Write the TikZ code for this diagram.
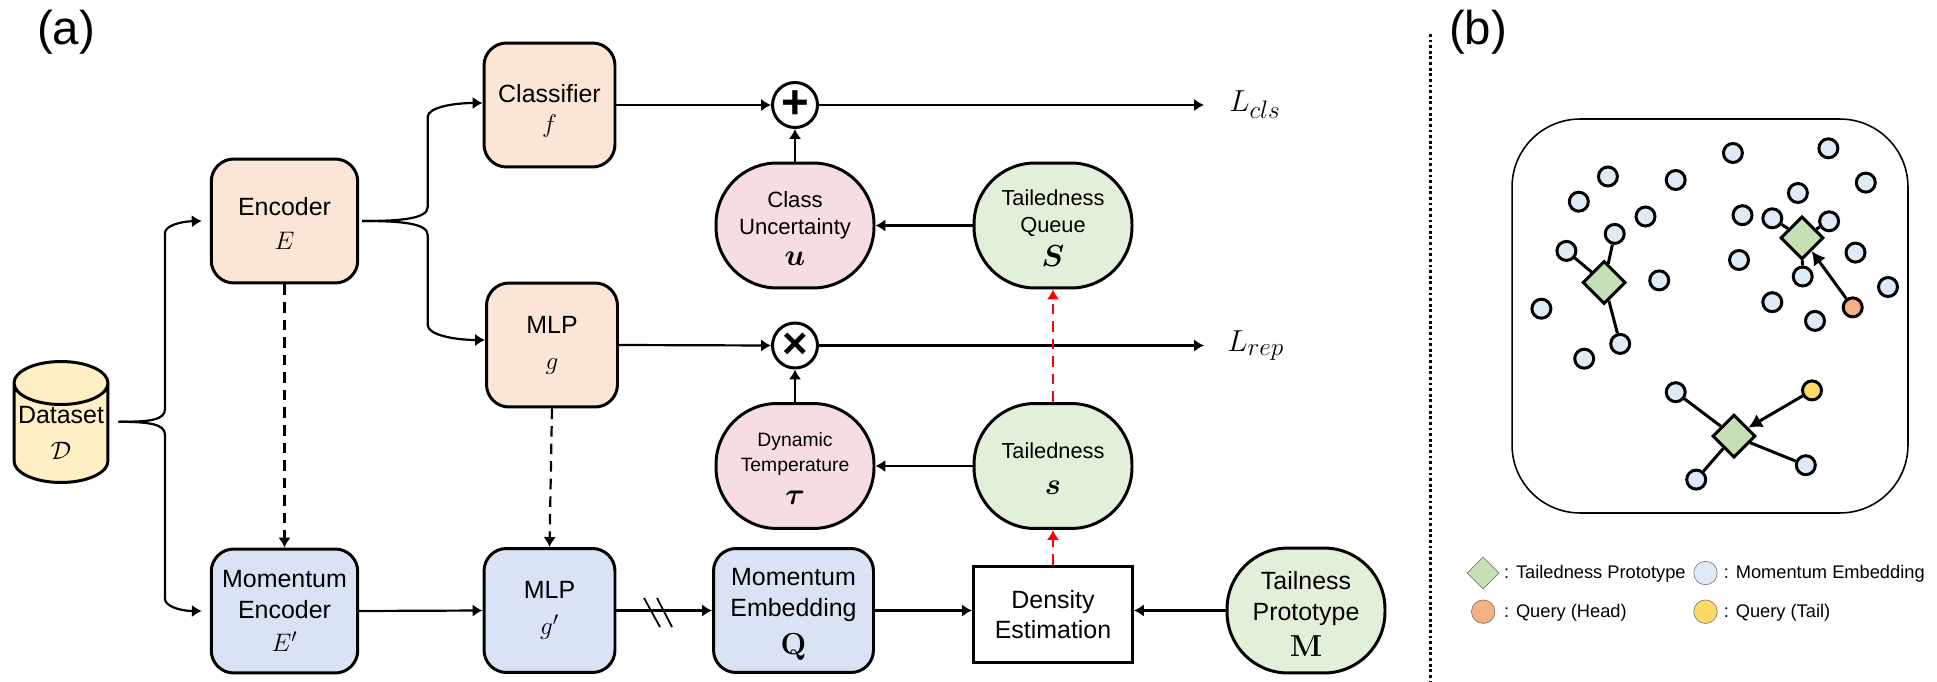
\documentclass[tikz,border=0pt]{standalone}
\usepackage{amsmath}
\usepackage{amssymb}
\usepackage[no-math]{fontspec}
\setmainfont{Liberation Sans}
\usepackage{tikz}
\usetikzlibrary{arrows.meta,shapes.geometric}

\definecolor{peach}{HTML}{FBE5D6}
\definecolor{bluebox}{HTML}{DAE3F3}
\definecolor{greenbox}{HTML}{E2F0D9}
\definecolor{pinkbox}{HTML}{F5DDE1}
\definecolor{yellowbox}{HTML}{FFEFC4}
\definecolor{embedfill}{HTML}{DEEBF7}
\definecolor{protofill}{HTML}{C5E0B4}
\definecolor{headfill}{HTML}{F4B183}
\definecolor{tailfill}{HTML}{FFD966}

\newcommand{\bigfont}{\fontsize{14.2}{17.5}\selectfont}
\newcommand{\symfont}{\fontsize{15.5}{17.5}\selectfont}
\newcommand{\boldfont}{\fontsize{17.5}{17.5}\selectfont}

\tikzset{
    >={Latex[length=2mm,width=2.5mm]},
    flow/.style={->, line width=1.25pt},
    momentumflow/.style={->, line width=1.25pt, dash pattern=on 6pt off 4pt},
    redflow/.style={->, line width=1.25pt, red, dash pattern=on 6pt off 4pt},
    basebox/.style={draw, line width=1.7pt, align=center, inner sep=0pt, font=\bigfont},
    bluenet/.style={basebox, rounded corners=0.45cm, fill=bluebox, minimum height=2.48cm},
    peachnet/.style={basebox, rounded corners=0.45cm, fill=peach, minimum height=2.48cm},
    roundbox/.style={basebox, rounded corners=1.22cm, minimum width=3.16cm, minimum height=2.5cm},
    opnode/.style={draw, circle, line width=1.7pt, fill=white, inner sep=0pt, minimum size=0.9cm},
    embed/.style={draw, circle, line width=1.7pt, fill=embedfill, inner sep=0pt, minimum size=0.38cm},
    proto/.style={draw, diamond, aspect=1, line width=1.7pt, fill=protofill, inner sep=0pt, minimum width=0.86cm, minimum height=0.86cm},
    link/.style={line width=1.7pt},
    pull/.style={-{Latex[length=2.7mm,width=3mm]}, line width=1.7pt},
    keydot/.style={draw=black!60, circle, line width=0.3pt, inner sep=0pt, minimum size=0.47cm},
    keytext/.style={anchor=west, inner sep=0pt, font=\fontsize{10.4}{12}\selectfont},
    panel/.style={inner sep=0pt, font=\fontsize{27}{30}\selectfont},
    lossname/.style={anchor=west, inner sep=0pt, font=\fontsize{19}{24}\selectfont}
}

\begin{document}
\begin{tikzpicture}[x=0.02cm,y=-0.02cm]
    \useasboundingbox (0,0) rectangle (1937,682);

    % Panel letters
    \node[panel] (panela) at (66,32) {(a)};
    \node[panel] (panelb) at (1478,32) {(b)};

    % Dataset
    \node[draw, cylinder, shape border rotate=90, aspect=0.5, line width=1.7pt, fill=yellowbox,
        minimum width=1.88cm, minimum height=2.42cm, inner sep=0pt, align=center, font=\bigfont]
        (dataset) at (61,433.5) {\phantom{Dataset}\\\phantom{$\mathcal{D}$}};
    \node[inner sep=0pt, align=center, font=\bigfont] (dataname) at (61,433) {Dataset\\[3pt]{\symfont$\mathcal{D}$}};

    % Encoders and heads
    \node[peachnet, minimum width=2.93cm] (encoder) at (284.5,221) {\rule{0pt}{13pt}Encoder\\[2pt]{\symfont$E$}};
    \node[bluenet, minimum width=2.93cm] (momenc) at (284.5,611) {Momentum\\Encoder\\[1pt]{\symfont$E'$}};
    \node[peachnet, minimum width=2.62cm] (classifier) at (549.5,105) {\rule{0pt}{17pt}Classifier\\{\symfont$f$}};
    \node[peachnet, minimum width=2.62cm] (mlp) at (552,345) {MLP\\[3pt]{\symfont$g$}};
    \node[bluenet, minimum width=2.62cm] (mlpm) at (549.5,610.5) {MLP\\[3pt]{\symfont$g'$}};
    \node[bluenet, minimum width=3.2cm] (momemb) at (793.5,610.5) {\rule{0pt}{14pt}Momentum\\Embedding\\[4pt]{\boldfont$\mathbf{Q}$}};

    % Operators and losses
    \node[opnode, font=\fontsize{27}{27}\selectfont\bfseries] (plus) at (795,105) {+};
    \node[opnode, font=\fontsize{25}{25}\selectfont\bfseries] (times) at (795,345.5) {×};
    \node[lossname] (lcls) at (1229,105) {$L_{cls}$};
    \node[lossname] (lrep) at (1227,345.5) {$L_{rep}$};

    % Round boxes
    \node[roundbox, fill=pinkbox, font=\fontsize{12.6}{15.5}\selectfont] (uncert) at (795,225.5) {\rule{0pt}{12pt}Class\\Uncertainty\\[2pt]{\boldfont$\boldsymbol{u}$}};
    \node[roundbox, fill=greenbox, font=\fontsize{12.4}{15.5}\selectfont] (queue) at (1053,225.5) {\rule{0pt}{12pt}Tailedness\\Queue\\[4pt]{\boldfont$\boldsymbol{S}$}};
    \node[roundbox, fill=pinkbox, font=\fontsize{11}{14}\selectfont] (dyntemp) at (795,466) {\rule{0pt}{11pt}Dynamic\\Temperature\\[5pt]{\boldfont$\boldsymbol{\tau}$}};
    \node[roundbox, fill=greenbox, font=\fontsize{12.4}{16}\selectfont] (tailed) at (1053,466) {\rule{0pt}{12pt}Tailedness\\[4pt]{\boldfont$\boldsymbol{s}$}};
    \node[roundbox, fill=greenbox] (tailproto) at (1306,610.5) {\rule{0pt}{14pt}Tailness\\Prototype\\[3pt]{\boldfont$\mathbf{M}$}};
    \node[basebox, fill=white, minimum width=3.18cm, minimum height=1.92cm] (density) at (1053,614.5) {Density\\Estimation};

    % Curved splits
    \coordinate (dsout) at ([xshift=0.18cm]dataset.east|-0,421.7);
    \coordinate (encout) at ([xshift=0.06cm]encoder.east);
    \draw[flow] (dsout) .. controls (150,422) and (165,420) .. (165,409) -- (165,233) .. controls (165,226) and (180,221.5) .. ([xshift=-0.16cm]encoder.west);
    \draw[flow] (dsout) .. controls (150,422) and (165,424) .. (165,435) -- (165,599) .. controls (165,606) and (180,611) .. ([xshift=-0.16cm]momenc.west);
    \draw[flow] (encout) .. controls (400,221) and (427.7,219) .. (427.7,207) -- (427.7,117) .. controls (427.7,107) and (455,103) .. (classifier.west|-0,103);
    \draw[flow] (encout) .. controls (400,221) and (427.7,223) .. (427.7,235) -- (427.7,325) .. controls (427.7,335) and (455,340) .. (mlp.west|-0,340);

    % Momentum updates
    \draw[momentumflow] (encoder.south) -- (momenc.north);
    \draw[momentumflow] (mlp.south) -- (mlpm.north);

    % Straight flows
    \draw[flow] (momenc.east) -- (mlpm.west);
    \draw[flow] (mlpm.east) -- (momemb.west);
    \draw[flow] (momemb.east) -- (density.west|-momemb.east);
    \draw[flow] (tailproto.west) -- (density.east|-tailproto.west);
    \draw[flow] (classifier.east) -- (plus.west);
    \draw[flow] (mlp.east) -- (times.west);
    \draw[flow] (plus.east) -- ([xshift=-0.5cm]lcls.west);
    \draw[flow] (times.east) -- ([xshift=-0.46cm]lrep.west);
    \draw[flow] (uncert.north) -- (plus.south);
    \draw[flow] (dyntemp.north) -- (times.south);
    \draw[flow] (queue.west) -- (uncert.east);
    \draw[flow] (tailed.west) -- (dyntemp.east);
    \draw[redflow] (density.north) -- (tailed.south);
    \draw[redflow] (tailed.north) -- (queue.south);

    % Stop gradient marks
    \coordinate (cuta1) at (644,598);
    \coordinate (cutb1) at (660,627);
    \coordinate (cuta2) at (657,598);
    \coordinate (cutb2) at (672,627);
    \draw[line width=1pt] (cuta1) -- (cutb1);
    \draw[line width=1pt] (cuta2) -- (cutb2);

    % Separator
    \coordinate (septop) at (1430,34);
    \coordinate (sepbot) at (1430,682);
    \draw[line width=1.7pt, dash pattern=on 1.6pt off 1.6pt] (septop) -- (sepbot);

    % Embedding space
    \node[draw, line width=0.9pt, rounded corners=1.36cm, minimum width=7.92cm, minimum height=7.88cm, inner sep=0pt] (space) at (1710,316) {};

    \foreach \nm/\x/\y in {a1/1607.9/176.5, a2/1578.8/201.7, a3/1675.7/180, a4/1645.5/216.5, a5/1614.7/233.9,
        a6/1566.4/250.9, a7/1659.2/280.4, a8/1541.4/308.7, a9/1620.2/343.9, a10/1584.2/358.7,
        b1/1732.9/153, b2/1828.4/148.3, b3/1865.8/182.6, b4/1797.9/193, b5/1742.5/215.2, b6/1772.3/218.3,
        b7/1829.1/221.3, b8/1855.5/252.6, b9/1739/260, b10/1802.7/276.5, b11/1888/287, b12/1772.3/302.2,
        b13/1815/320.9, c1/1675.7/392.2, c2/1805.8/465.2, c3/1696.2/479.6}
        \node[embed] (\nm) at (\x,\y) {};

    \node[embed, fill=headfill] (qhead) at (1852.7,307.4) {};
    \node[embed, fill=tailfill] (qtail) at (1812,390.4) {};

    \node[proto] (pa) at (1604.1,282.6) {};
    \node[proto] (pb) at (1802,237.8) {};
    \node[proto] (pc) at (1733.9,436.1) {};

    \draw[link] (pa) -- (a5);
    \draw[link] (pa) -- (a6);
    \draw[link] (pa) -- (a9);
    \draw[link] (pb) -- (b6);
    \draw[link] (pb) -- (b7);
    \draw[link] (pb) -- (b10);
    \draw[link] (pc) -- (c1);
    \draw[link] (pc) -- (c2);
    \draw[link] (pc) -- (c3);
    \draw[pull] (qhead) -- (pb);
    \draw[pull] (qtail) -- (pc);

    % Legend
    \node[draw=black!60, diamond, aspect=1, line width=0.3pt, fill=protofill, inner sep=0pt, minimum width=0.64cm, minimum height=0.64cm] (keyproto) at (1483.2,573) {};
    \node[keydot, fill=embedfill] (keyembed) at (1705.5,573) {};
    \node[keydot, fill=headfill] (keyhead) at (1483.2,611.7) {};
    \node[keydot, fill=tailfill] (keytail) at (1705.5,611.7) {};
    \node[keytext] (txtproto) at (1503.8,574) {: Tailedness Prototype};
    \node[keytext] (txtembed) at (1723.6,574) {: Momentum Embedding};
    \node[keytext] (txthead) at (1503.8,613) {: Query (Head)};
    \node[keytext] (txttail) at (1723.6,613) {: Query (Tail)};
\end{tikzpicture}
\end{document}
